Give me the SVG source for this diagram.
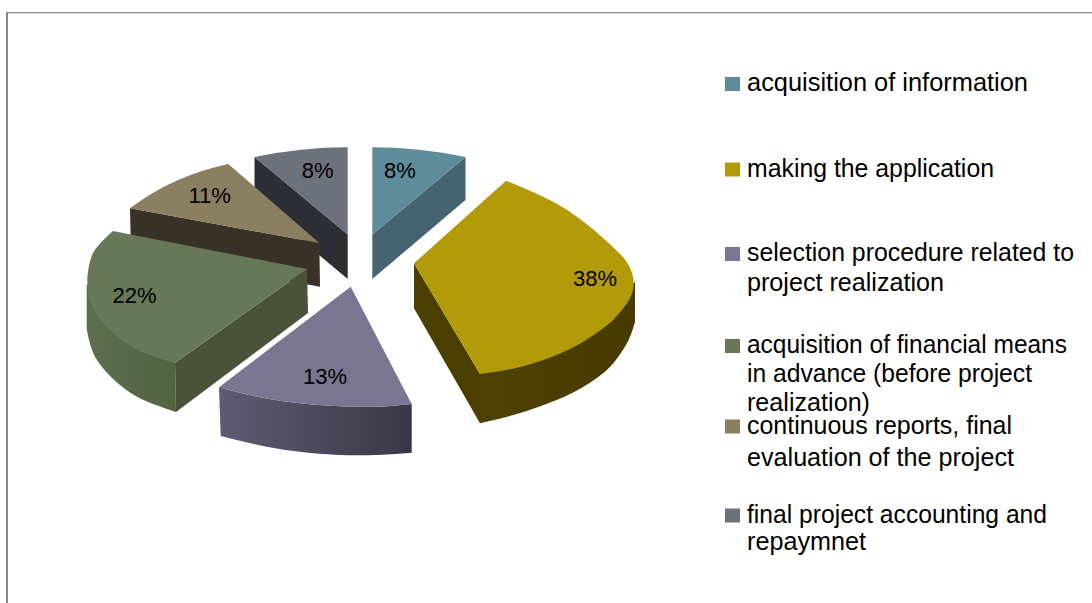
<svg xmlns="http://www.w3.org/2000/svg" width="1092" height="603" viewBox="0 0 1092 603">
  <defs>
    <style>
      .lbl { font-family: "Liberation Sans", Arial, sans-serif; font-size: 22px; fill: #000; text-anchor: middle; }
      .leg { font-family: "Liberation Sans", Arial, sans-serif; font-size: 25px; fill: #000; }
      .c-blue { fill: #5F8C9B; }
      .c-blue-d { fill: #46646F; }
      .c-yel { fill: #B39A08; }
      .c-yel-d { fill: #4A3E00; }
      .c-pur { fill: #7A7590; }
      .c-grn { fill: #677757; }
      .c-grn-d { fill: #4A5239; }
      .c-tan { fill: #8B7F62; }
      .c-tan-d { fill: #373126; }
      .c-gry { fill: #6D7179; }
      .c-gry-d { fill: #2C2E33; }
    </style>
    <linearGradient id="gPurRim" x1="219" y1="0" x2="412" y2="0" gradientUnits="userSpaceOnUse">
      <stop offset="0" stop-color="#5F5B73"/>
      <stop offset="1" stop-color="#393746"/>
    </linearGradient>
    <linearGradient id="gGrnRim" x1="86" y1="0" x2="176" y2="0" gradientUnits="userSpaceOnUse">
      <stop offset="0" stop-color="#5E6E4E"/>
      <stop offset="1" stop-color="#53623F"/>
    </linearGradient>
    <linearGradient id="gYelRim" x1="480" y1="0" x2="635" y2="0" gradientUnits="userSpaceOnUse">
      <stop offset="0" stop-color="#4E4100"/>
      <stop offset="1" stop-color="#463A00"/>
    </linearGradient>
  </defs>

  <rect x="0" y="0" width="1092" height="603" fill="#FFFFFF"/>

  <!-- chart frame -->
  <g id="frame" fill="#8A8A8A">
    <rect x="6" y="12" width="2" height="591"/>
    <rect x="6" y="12" width="1086" height="1.3"/>
  </g>

  <!-- slice: final project accounting and repaymnet (8%) -->
  <g id="slice-final-accounting">
    <path class="c-gry-d" d="M 254.5,157 L 347.7,234.5 L 347.7,279 L 254.5,201 Z"/>
    <path class="c-gry" d="M 347.7,234.5 L 347.7,147.2 Q 301,147.2 254.5,157 Z"/>
    <text class="lbl" x="317.7" y="177.7">8%</text>
  </g>

  <!-- slice: acquisition of information (8%) -->
  <g id="slice-acquisition-info">
    <path class="c-blue-d" d="M 465.5,157 L 465.5,200 L 372.3,279 L 372.3,234.5 Z"/>
    <path class="c-blue" d="M 372.3,234.5 L 372.3,147.2 Q 419,147.2 465.5,157 Z"/>
    <text class="lbl" x="400" y="177.7">8%</text>
  </g>

  <!-- slice: continuous reports (11%) -->
  <g id="slice-continuous-reports">
    <path class="c-tan-d" d="M 130,208.3 L 319.3,243 L 320,286.7 L 131,252 Z"/>
    <path class="c-tan" d="M 319.3,243 L 130,208.3 Q 172.8,175.8 228.3,164 Z"/>
    <text class="lbl" x="209.7" y="203.3">11%</text>
  </g>

  <!-- slice: acquisition of financial means (22%) -->
  <g id="slice-financial-means">
    <path fill="url(#gGrnRim)" d="M 86.7,284 L 86.7,329 Q 90,348.3 95.85,358.3 Q 101.7,368.3 113.35,379.15 Q 125,390 136.65,396.5 Q 148.3,403 176,412 L 175,363 Z"/>
    <path class="c-grn-d" d="M 307,269 L 175,363 L 176,412 L 308,313 Z"/>
    <path class="c-grn" d="M 307,269 L 113,231 Q 95,246.7 91.75,255.85 Q 88.5,265 87.6,274.5 Q 86.7,284 88.35,293.65 Q 90,303.3 95.85,313.3 Q 101.7,323.3 113.35,333.3 Q 125,343.3 136.65,349.15 Q 148.3,355 175,363 Z"/>
    <text class="lbl" x="134.5" y="303.3">22%</text>
  </g>

  <!-- slice: making the application (38%) -->
  <g id="slice-making-application">
    <path fill="url(#gYelRim)" d="M 635,282 L 635,322 Q 631,336 626.5,344 Q 622,352 614.35,362 Q 606.7,372 590,382.65 Q 573.3,393.3 556.65,400 Q 540,406.7 525,411.6 Q 510,416.5 480,423.3 L 480,374 Z"/>
    <path class="c-yel-d" d="M 414,263.3 L 480,374 L 480,423.3 L 414,308.3 Z"/>
    <path class="c-yel" d="M 414,263.3 L 506,180.7 Q 550,198.3 568.35,210.8 Q 586.7,223.3 601.7,236.65 Q 616.7,250 622.85,257 Q 629,264 632,273 Q 635,282 633,290 Q 631,298 625.5,305.5 Q 620,313 613.35,319.85 Q 606.7,326.7 590,337.5 Q 573.3,348.3 556.65,355 Q 540,361.7 525,365.85 Q 510,370 480,374 Z"/>
    <text class="lbl" x="595" y="286">38%</text>
  </g>

  <!-- slice: selection procedure (13%) -->
  <g id="slice-selection-procedure">
    <path fill="url(#gPurRim)" d="M 219,387.3 Q 240,393 255,396.25 Q 270,399.5 285,401.5 Q 300,403.5 315,404.75 Q 330,406 345,406.5 Q 360,407 375,406.75 Q 390,406.5 411.7,404 L 411.7,452.7 Q 385,455 367.5,455.25 Q 350,455.5 335,454.75 Q 320,454 301.65,452 Q 283.3,450 266.65,446.75 Q 250,443.5 220.7,436 Z"/>
    <path class="c-pur" d="M 350.7,286.7 L 411.7,404 Q 390,406.5 375,406.75 Q 360,407 345,406.5 Q 330,406 315,404.75 Q 300,403.5 285,401.5 Q 270,399.5 255,396.25 Q 240,393 219,387.3 Z"/>
    <text class="lbl" x="325" y="383.5">13%</text>
  </g>

  <!-- legend -->
  <g id="legend">
    <g id="legend-1">
      <rect class="c-blue" x="725" y="77" width="15" height="14"/>
      <text class="leg" x="747" y="91" textLength="281" lengthAdjust="spacingAndGlyphs">acquisition of information</text>
    </g>
    <g id="legend-2">
      <rect class="c-yel" x="725" y="162.5" width="15" height="14"/>
      <text class="leg" x="747" y="176.5" textLength="247" lengthAdjust="spacingAndGlyphs">making the application</text>
    </g>
    <g id="legend-3">
      <rect class="c-pur" x="725" y="247" width="15" height="14"/>
      <text class="leg" x="747" y="261" textLength="327" lengthAdjust="spacingAndGlyphs">selection procedure related to</text>
      <text class="leg" x="747" y="291" textLength="197" lengthAdjust="spacingAndGlyphs">project realization</text>
    </g>
    <g id="legend-4">
      <rect class="c-grn" x="725" y="339" width="15" height="14"/>
      <text class="leg" x="747" y="353" textLength="320" lengthAdjust="spacingAndGlyphs">acquisition of financial means</text>
      <text class="leg" x="747" y="382" textLength="285" lengthAdjust="spacingAndGlyphs">in advance (before project</text>
      <text class="leg" x="747" y="411" textLength="123" lengthAdjust="spacingAndGlyphs">realization)</text>
    </g>
    <g id="legend-5">
      <rect class="c-tan" x="725" y="419.5" width="15" height="14"/>
      <text class="leg" x="747" y="433.5" textLength="265" lengthAdjust="spacingAndGlyphs">continuous reports, final</text>
      <text class="leg" x="747" y="465.5" textLength="267" lengthAdjust="spacingAndGlyphs">evaluation of the project</text>
    </g>
    <g id="legend-6">
      <rect class="c-gry" x="725" y="508.5" width="15" height="14"/>
      <text class="leg" x="747" y="522.5" textLength="300" lengthAdjust="spacingAndGlyphs">final project accounting and</text>
      <text class="leg" x="747" y="550" textLength="119" lengthAdjust="spacingAndGlyphs">repaymnet</text>
    </g>
  </g>
</svg>
